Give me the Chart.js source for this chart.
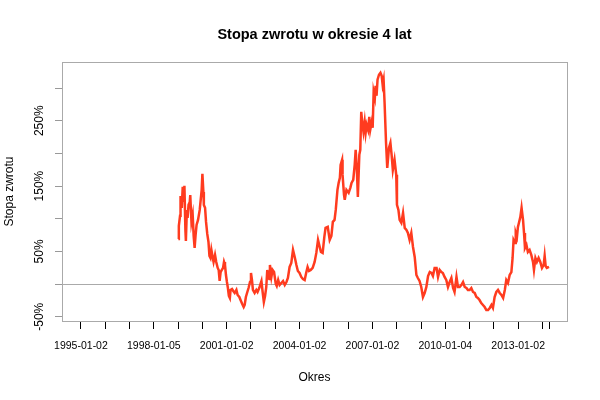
<!DOCTYPE html>
<html>
<head>
<meta charset="utf-8">
<script src="https://cdn.jsdelivr.net/npm/chart.js@4.4.1/dist/chart.umd.min.js"></script>
<style>
  body { margin: 0; background: #fff; }
  #wrap { width: 600px; height: 400px; }
</style>
</head>
<body>
<div id="wrap"><canvas id="graph" width="600" height="400"></canvas></div>
<script>
// okres (rok jako ulamek) i stopa zwrotu w %
const years = [
  1999.01, 1999.03, 1999.08, 1999.10, 1999.15, 1999.19, 1999.23, 1999.26, 1999.30, 1999.32,
  1999.36, 1999.39, 1999.43, 1999.48, 1999.50, 1999.55, 1999.60, 1999.64, 1999.68, 1999.72,
  1999.76, 1999.82, 1999.89, 1999.93, 1999.97, 2000.00, 2000.04, 2000.06, 2000.11, 2000.15,
  2000.20, 2000.25, 2000.29, 2000.33, 2000.37, 2000.42, 2000.46, 2000.52, 2000.57, 2000.63,
  2000.67, 2000.71, 2000.75, 2000.80, 2000.85, 2000.89, 2000.93, 2000.97, 2001.01, 2001.05,
  2001.09, 2001.13, 2001.16, 2001.22, 2001.27, 2001.33, 2001.40, 2001.45, 2001.52, 2001.57,
  2001.64, 2001.70, 2001.74, 2001.79, 2001.85, 2001.90, 2001.96, 2002.00, 2002.04, 2002.08,
  2002.15, 2002.22, 2002.27, 2002.34, 2002.43, 2002.48, 2002.53, 2002.58, 2002.63, 2002.67,
  2002.71, 2002.75, 2002.78, 2002.84, 2002.89, 2002.95, 2003.02, 2003.06, 2003.12, 2003.18,
  2003.25, 2003.32, 2003.39, 2003.46, 2003.52, 2003.59, 2003.66, 2003.73, 2003.80, 2003.87,
  2003.93, 2004.00, 2004.07, 2004.14, 2004.21, 2004.28, 2004.33, 2004.39, 2004.46, 2004.54,
  2004.62, 2004.69, 2004.76, 2004.82, 2004.88, 2004.95, 2005.02, 2005.07, 2005.16, 2005.24,
  2005.31, 2005.37, 2005.44, 2005.49, 2005.56, 2005.61, 2005.66, 2005.69, 2005.75, 2005.77,
  2005.83, 2005.86, 2005.93, 2006.02, 2006.09, 2006.14, 2006.21, 2006.27, 2006.31, 2006.36,
  2006.40, 2006.46, 2006.50, 2006.54, 2006.59, 2006.63, 2006.68, 2006.72, 2006.76, 2006.82,
  2006.87, 2006.91, 2006.97, 2007.01, 2007.05, 2007.10, 2007.13, 2007.17, 2007.21, 2007.27,
  2007.33, 2007.38, 2007.42, 2007.46, 2007.50, 2007.56, 2007.61, 2007.68, 2007.74, 2007.79,
  2007.84, 2007.91, 2007.98, 2008.01, 2008.07, 2008.12, 2008.19, 2008.26, 2008.33, 2008.40,
  2008.46, 2008.53, 2008.60, 2008.67, 2008.74, 2008.81, 2008.87, 2008.94, 2009.01, 2009.08,
  2009.15, 2009.22, 2009.29, 2009.36, 2009.43, 2009.49, 2009.56, 2009.64, 2009.70, 2009.77,
  2009.84, 2009.90, 2009.97, 2010.04, 2010.11, 2010.18, 2010.25, 2010.32, 2010.38, 2010.46,
  2010.52, 2010.59, 2010.66, 2010.73, 2010.80, 2010.87, 2010.93, 2011.00, 2011.07, 2011.14,
  2011.21, 2011.28, 2011.34, 2011.41, 2011.48, 2011.55, 2011.62, 2011.69, 2011.76, 2011.83,
  2011.90, 2011.96, 2012.03, 2012.10, 2012.17, 2012.24, 2012.31, 2012.38, 2012.45, 2012.51,
  2012.58, 2012.65, 2012.72, 2012.77, 2012.81, 2012.87, 2012.90, 2012.95, 2012.99, 2013.03,
  2013.09, 2013.14, 2013.20, 2013.24, 2013.28, 2013.34, 2013.40, 2013.47, 2013.54, 2013.61,
  2013.65, 2013.71, 2013.77, 2013.84, 2013.91, 2013.98, 2014.05, 2014.09, 2014.13, 2014.18,
  2014.27
];
const returns = [
  69.1, 89.0, 104.4, 135.0, 116.6, 148.8, 125.8, 150.3, 82.9, 66.0,
  113.5, 101.3, 121.2, 125.8, 136.4, 95.2, 105.9, 73.7, 55.3, 75.2,
  90.6, 98.2, 113.5, 128.9, 144.2, 168.7, 141.1, 121.2, 116.6, 95.2,
  76.8, 64.5, 43.1, 40.0, 52.3, 41.5, 33.9, 44.6, 33.9, 24.7,
  21.6, 4.8, 18.5, 21.6, 24.7, 33.9, 29.3, 13.9, 3.2, -6.0,
  -18.2, -21.3, -9.0, -7.5, -10.6, -13.6, -9.0, -16.7, -19.8, -24.4,
  -30.5, -35.1, -32.0, -19.8, -12.1, -6.0, 3.2, 17.0, 6.3, -9.0,
  -13.6, -9.0, -12.1, -6.0, 4.7, -12.1, -27.4, -18.2, -4.4, 21.6,
  9.3, 7.8, 29.3, 10.9, 21.6, 18.5, 0.2, -2.9, 6.3, -1.4,
  1.7, 4.7, -1.4, 3.2, 9.3, 26.2, 32.3, 52.3, 41.5, 29.3,
  20.1, 17.0, 10.9, 7.8, 6.3, 18.5, 26.2, 20.1, 21.6, 24.7,
  33.9, 47.7, 67.6, 58.4, 49.2, 47.7, 72.2, 86.0, 87.5, 67.6,
  73.7, 95.2, 98.2, 113.5, 144.2, 154.9, 162.6, 182.5, 190.2, 167.2,
  136.5, 128.9, 144.2, 139.6, 147.3, 154.9, 159.5, 182.5, 205.5, 174.8,
  133.5, 197.8, 205.5, 263.7, 243.8, 233.1, 248.4, 231.5, 243.8, 236.1,
  256.0, 236.1, 248.4, 239.2, 294.3, 285.2, 303.5, 288.2, 312.7, 320.4,
  323.5, 318.9, 305.1, 312.7, 277.5, 216.2, 177.9, 208.5, 216.2, 197.8,
  174.8, 190.2, 167.2, 121.2, 113.5, 98.2, 93.6, 108.9, 86.0, 82.9,
  78.3, 67.6, 78.3, 56.8, 41.5, 13.9, 9.3, 4.8, -4.4, -19.8,
  -13.6, -4.4, 12.4, 18.5, 17.0, 12.4, 24.7, 24.7, 10.9, 21.6,
  18.5, 17.0, 10.9, 6.3, -4.4, 3.2, 9.3, -6.0, -12.1, 10.9,
  -4.4, -4.4, -1.4, 3.2, -4.4, -6.0, -9.0, -9.0, -6.0, -12.1,
  -13.6, -19.8, -21.3, -24.4, -29.0, -32.0, -35.1, -39.7, -39.7, -36.5,
  -32.0, -36.5, -19.8, -12.1, -9.0, -13.6, -16.7, -21.3, -9.0, 6.3,
  1.7, 13.9, 18.5, 40.0, 67.6, 63.0, 78.3, 72.2, 87.5, 93.6,
  102.8, 116.6, 98.2, 78.3, 55.3, 59.9, 49.2, 52.3, 44.6, 33.9,
  21.6, 40.0, 33.9, 40.0, 33.9, 24.7, 29.3, 43.1, 27.7, 24.7,
  26.2
];

// podzialka osi X: pierwszy dzien kazdego roku + ostatnia data
const xTicks = [1995, 1996, 1997, 1998, 1999, 2000, 2001, 2002, 2003, 2004,
  2005, 2006, 2007, 2008, 2009, 2010, 2011, 2012, 2013, 2014, 2014.27];
const xTickLabels = ['1995-01-02', '', '', '1998-01-05', '', '', '2001-01-02', '', '', '2004-01-02',
  '', '', '2007-01-02', '', '', '2010-01-04', '', '', '2013-01-02', '', ''];

const yTicks = [-50, 0, 50, 100, 150, 200, 250, 300];
const yTickLabels = ['-50%', '', '50%', '', '150%', '', '250%', ''];

const FONT = 'Liberation Sans, Arial, sans-serif';
Chart.defaults.font.family = FONT;
Chart.defaults.color = '#000';

const boxAndTitle = {
  id: 'boxAndTitle',
  afterDraw(chart) {
    const {ctx, chartArea: a} = chart;
    ctx.save();
    ctx.strokeStyle = '#aaaaaa';
    ctx.lineWidth = 1;
    ctx.strokeRect(Math.round(a.left) + 0.5, Math.round(a.top) + 0.5,
      Math.round(a.right - a.left), Math.round(a.bottom - a.top));
    ctx.fillStyle = '#000';
    ctx.font = 'bold 14.5px ' + FONT;
    ctx.textAlign = 'center';
    ctx.textBaseline = 'alphabetic';
    ctx.fillText('Stopa zwrotu w okresie 4 lat', (a.left + a.right) / 2, 38.5);
    ctx.restore();
  }
};

new Chart(document.getElementById('graph'), {
  type: 'line',
  data: {
    datasets: [{
      data: years.map((x, i) => ({x: x, y: returns[i]})),
      borderColor: 'rgb(255,59,31)',
      borderWidth: 2.5,
      pointRadius: 0,
      tension: 0,
      fill: false
    }]
  },
  options: {
    responsive: false,
    animation: false,
    layout: { padding: { top: 62, right: 33, bottom: 0, left: 0 } },
    plugins: { legend: { display: false }, tooltip: { enabled: false } },
    scales: {
      x: {
        type: 'linear',
        min: 1994.22,
        max: 2015.01,
        afterBuildTicks: axis => { axis.ticks = xTicks.map(v => ({value: v})); },
        afterFit: axis => { axis.height = 79; },
        ticks: {
          autoSkip: false,
          maxRotation: 0,
          minRotation: 0,
          padding: 10.5,
          font: { size: 10.5 },
          callback: (v, i) => xTickLabels[i]
        },
        grid: { drawOnChartArea: false, tickLength: 8, tickColor: '#000', color: '#000' },
        border: { display: false },
        title: { display: true, text: 'Okres', font: { size: 12 }, padding: { top: 0, bottom: 14.8 } }
      },
      y: {
        min: -56.5,
        max: 339.9,
        afterBuildTicks: axis => { axis.ticks = yTicks.map(v => ({value: v})); },
        afterFit: axis => { axis.width = 62; },
        ticks: {
          autoSkip: false,
          minRotation: 90,
          maxRotation: 90,
          crossAlign: 'center',
          padding: 0,
          font: { size: 12 },
          callback: (v, i) => yTickLabels[i]
        },
        grid: {
          tickLength: 7,
          tickColor: '#999999',
          color: c => (c.tick && c.tick.value === 0) ? '#aaaaaa' : 'rgba(0,0,0,0)'
        },
        border: { display: false },
        title: { display: true, text: 'Stopa zwrotu', font: { size: 12 }, padding: { top: 2.3, bottom: 0 } }
      }
    }
  },
  plugins: [boxAndTitle]
});
</script>
</body>
</html>
